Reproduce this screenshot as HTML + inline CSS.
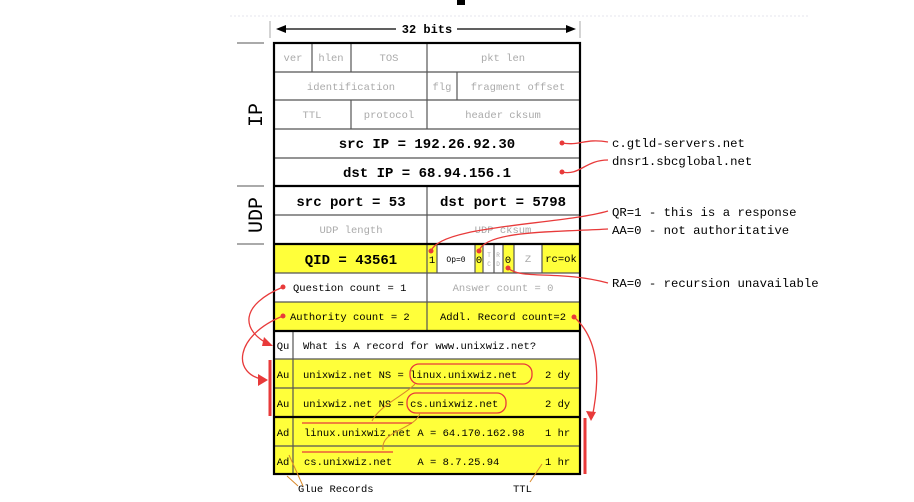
<!DOCTYPE html>
<html><head><meta charset="utf-8"><style>
body{margin:0;background:#fff;width:914px;height:502px;overflow:hidden}
svg{display:block}
text{font-family:"Liberation Mono",monospace;white-space:pre}
</style></head><body>
<svg width="914" height="502" viewBox="0 0 914 502" xmlns="http://www.w3.org/2000/svg">
<rect x="457" y="0" width="8" height="5" fill="#000"/>
<line x1="230" y1="16" x2="810" y2="16" stroke="#e6e6ee" stroke-width="1" stroke-dasharray="2,2"/>
<line x1="270" y1="21" x2="270" y2="38" stroke="#aaa"/>
<line x1="580" y1="21" x2="580" y2="38" stroke="#aaa"/>
<line x1="280" y1="29" x2="396" y2="29" stroke="#000" stroke-width="1.3"/>
<line x1="457" y1="29" x2="572" y2="29" stroke="#000" stroke-width="1.3"/>
<polygon points="276,29 286,25 286,33" fill="#000"/>
<polygon points="576,29 566,25 566,33" fill="#000"/>
<text x="427" y="33" font-size="12" text-anchor="middle" font-weight="bold">32 bits</text>
<g stroke="#aaa" stroke-width="2"><line x1="237" y1="43" x2="264" y2="43"/><line x1="237" y1="186" x2="264" y2="186"/><line x1="237" y1="244" x2="264" y2="244"/></g>
<text transform="translate(262,115) rotate(-90)" font-size="20" text-anchor="middle" font-family="Liberation Sans">IP</text>
<text transform="translate(262,215) rotate(-90)" font-size="20" text-anchor="middle" font-family="Liberation Sans">UDP</text>
<g fill="#ffff3a">
<rect x="274" y="244" width="153" height="29"/>
<rect x="427" y="244" width="10" height="29"/>
<rect x="475" y="244" width="8" height="29"/>
<rect x="503" y="244" width="11" height="29"/>
<rect x="542" y="244" width="38" height="29"/>
<rect x="274" y="302" width="306" height="29"/>
<rect x="274" y="359" width="306" height="115"/>
</g>
<g stroke="#555" stroke-width="1.2" fill="none">
<line x1="274" y1="72" x2="580" y2="72"/><line x1="274" y1="100" x2="580" y2="100"/>
<line x1="274" y1="129" x2="580" y2="129"/><line x1="274" y1="158" x2="580" y2="158"/>
<line x1="274" y1="215" x2="580" y2="215"/>
<line x1="274" y1="273" x2="580" y2="273"/><line x1="274" y1="302" x2="580" y2="302"/>
<line x1="274" y1="359" x2="580" y2="359"/><line x1="274" y1="388" x2="580" y2="388"/>
<line x1="274" y1="446" x2="580" y2="446"/>
<line x1="312" y1="43" x2="312" y2="72"/><line x1="351" y1="43" x2="351" y2="72"/>
<line x1="427" y1="43" x2="427" y2="129"/><line x1="457" y1="72" x2="457" y2="100"/>
<line x1="351" y1="100" x2="351" y2="129"/>
<line x1="427" y1="186" x2="427" y2="331"/>
<line x1="437" y1="244" x2="437" y2="273"/><line x1="475" y1="244" x2="475" y2="273"/>
<line x1="483" y1="244" x2="483" y2="273"/><line x1="494" y1="244" x2="494" y2="273"/>
<line x1="503" y1="244" x2="503" y2="273"/><line x1="514" y1="244" x2="514" y2="273"/>
<line x1="542" y1="244" x2="542" y2="273"/>
<line x1="293" y1="331" x2="293" y2="474"/>
</g>
<g stroke="#000" stroke-width="2.2" fill="none">
<rect x="274" y="43" width="306" height="431"/>
<line x1="274" y1="186" x2="580" y2="186"/><line x1="274" y1="244" x2="580" y2="244"/>
<line x1="274" y1="331" x2="580" y2="331"/><line x1="274" y1="417" x2="580" y2="417"/>
</g>
<g font-size="10.5" fill="#aaa" text-anchor="middle">
<text x="293" y="61">ver</text><text x="331" y="61">hlen</text><text x="389" y="61">TOS</text><text x="503" y="61">pkt len</text>
<text x="351" y="90">identification</text><text x="442" y="90">flg</text><text x="518" y="90">fragment offset</text>
<text x="312" y="118">TTL</text><text x="389" y="118">protocol</text><text x="503" y="118">header cksum</text>
<text x="351" y="233">UDP length</text><text x="503" y="233">UDP cksum</text>
<text x="503" y="291">Answer count = 0</text>
<text x="528" y="262">Z</text>
</g>
<g font-size="6" fill="#aaa" text-anchor="middle"><text x="489" y="257">T</text><text x="489" y="266">C</text><text x="498" y="257">R</text><text x="498" y="266">D</text></g>
<g font-size="14" font-weight="bold" text-anchor="middle" fill="#000">
<text x="427" y="148">src IP = 192.26.92.30</text>
<text x="427" y="177">dst IP = 68.94.156.1</text>
<text x="351" y="206">src port = 53</text>
<text x="503" y="206">dst port = 5798</text>
<text x="351" y="264">QID = 43561</text>
</g>
<g font-size="10.5" fill="#000">
<text x="432" y="263" text-anchor="middle">1</text>
<text x="456" y="262" text-anchor="middle" font-size="8">Op=0</text>
<text x="479" y="263" text-anchor="middle">0</text>
<text x="508" y="263" text-anchor="middle">0</text>
<text x="561" y="262" text-anchor="middle">rc=ok</text>
<text x="293" y="291">Question count = 1</text>
<text x="290" y="320">Authority count = 2</text>
<text x="440" y="320">Addl. Record count=2</text>
<text x="283" y="349" text-anchor="middle">Qu</text>
<text x="303" y="349">What is A record for www.unixwiz.net?</text>
<text x="283" y="378" text-anchor="middle">Au</text>
<text x="303" y="378">unixwiz.net NS = linux.unixwiz.net</text>
<text x="283" y="407" text-anchor="middle">Au</text>
<text x="303" y="407">unixwiz.net NS = cs.unixwiz.net</text>
<text x="283" y="436" text-anchor="middle">Ad</text>
<text x="304" y="436">linux.unixwiz.net A = 64.170.162.98</text>
<text x="283" y="465" text-anchor="middle">Ad</text>
<text x="304" y="465">cs.unixwiz.net    A = 8.7.25.94</text>
<text x="545" y="378">2 dy</text><text x="545" y="407">2 dy</text>
<text x="545" y="436">1 hr</text><text x="545" y="465">1 hr</text>
<text x="298" y="492">Glue Records</text>
<text x="513" y="492">TTL</text>
</g>
<g font-size="12.3" fill="#000">
<text x="612" y="147">c.gtld-servers.net</text>
<text x="612" y="165">dnsr1.sbcglobal.net</text>
<text x="612" y="216">QR=1 - this is a response</text>
<text x="612" y="234">AA=0 - not authoritative</text>
<text x="612" y="287">RA=0 - recursion unavailable</text>
</g>
<g stroke="#e83a3a" stroke-width="1.3" fill="none">
<path d="M562,143 C580,146 585,138 608,142"/>
<path d="M562,172 C580,176 585,160 608,160"/>
<path d="M431,251 C440,225 560,225 608,211"/>
<path d="M479,251 C485,230 560,232 608,229"/>
<path d="M508,268 C520,280 560,270 608,283"/>
<path d="M283,287 C240,305 240,330 270,345"/>
<path d="M283,316 C235,335 230,375 266,380"/>
<path d="M574,317 C600,340 600,380 592,418"/>
<rect x="410" y="364" width="122" height="20" rx="9"/>
<rect x="407" y="393" width="99" height="20" rx="9"/>
</g>
<g stroke="#d9892a" stroke-width="1" fill="none">
<path d="M415,384 C405,395 380,405 372,421"/>
<path d="M420,413 C415,430 380,430 383,450"/>
<path d="M289,455 L303,486"/><path d="M287,476 L298,486"/>
<path d="M542,464 L530,482"/>
</g>
<g stroke="#e83a3a" stroke-width="1.3"><line x1="302" y1="423" x2="412" y2="423"/><line x1="302" y1="452" x2="393" y2="452"/></g>
<g stroke="#e83a3a" stroke-width="3"><line x1="270" y1="360" x2="270" y2="416"/><line x1="585" y1="418" x2="585" y2="474"/></g>
<g fill="#e83a3a">
<circle cx="562" cy="143" r="2.5"/><circle cx="562" cy="172" r="2.5"/>
<circle cx="431" cy="251" r="2.5"/><circle cx="479" cy="251" r="2.5"/><circle cx="508" cy="268" r="2.5"/>
<circle cx="283" cy="287" r="2.5"/><circle cx="283" cy="316" r="2.5"/><circle cx="574" cy="317" r="2.5"/>
<polygon points="273,346 264,337 262,346"/>
<polygon points="268,380 258,374 258,386"/>
<polygon points="591,421 586,411 596,412"/>
</g>
</svg>
</body></html>
